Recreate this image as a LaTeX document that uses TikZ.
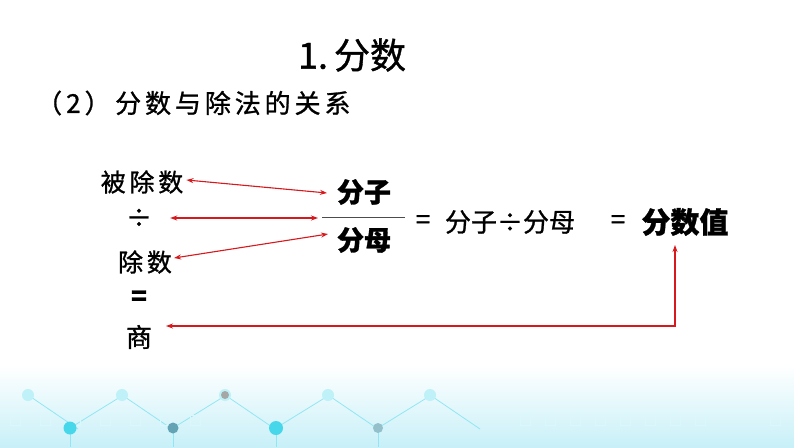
\documentclass[tikz,border=0pt]{standalone}
\usepackage{fontspec}
\usetikzlibrary{arrows.meta}
\newfontfamily\cjk{Noto Sans CJK SC}[FakeBold=1,BoldFeatures={FakeBold=1.1}]
\newfontfamily\cjkwide{Noto Sans CJK SC}[LetterSpace=15,FakeBold=1]
\definecolor{arrred}{RGB}{215,25,30}
\definecolor{bgcyan}{RGB}{200,240,248}
\definecolor{dotcyan}{RGB}{70,215,235}
\definecolor{dotteal}{RGB}{60,140,160}
\tikzset{
  txt/.style={inner sep=0pt, text=black},
  link/.style={draw=arrred, line width=1.1pt, {Stealth[length=7pt,width=5pt]}-{Stealth[length=7pt,width=5pt]}},
  deco/.style={draw=dotcyan!60, line width=0.8pt},
}
\begin{document}
\begin{tikzpicture}[x=1pt,y=-1pt]
\useasboundingbox (0,0) rectangle (794,447);
\fill[white] (0,0) rectangle (794,447);
% background decoration
\shade[top color=white, bottom color=bgcyan] (0,365) rectangle (794,447);
\foreach \x in {28,122,225,328,430} {
  \draw[deco] (\x,395) -- ++(50,34);
}
\foreach \x in {70,173,276,378} {
  \draw[deco] (\x,428) -- ++(55,-34);
  \draw[deco] (\x,428) -- ++(0,19);
}
\foreach \x in {10,40,70,100,130,160,190,520,545,570,595,620,645,670,695,770} {
  \draw[white!80!dotcyan, line width=0.6pt] (\x,415) rectangle ++(10,10);
}
\foreach \x in {28,122,225,328,430} {
  \fill[dotcyan!35] (\x,395) circle (6pt);
}
\fill[dotcyan] (70,428) circle (6.5pt);
\fill[dotteal!80] (173,428) circle (5.5pt);
\fill[dotcyan] (276,428) circle (7pt);
\fill[dotteal!55] (378,428) circle (5pt);
\fill[black!35] (225,395) circle (4pt);

% titles
\node[txt, font=\fontsize{36}{38}\selectfont\cjk] (title) at (352,55) {1.\,分数};
\node[txt, anchor=west, font=\fontsize{26}{28}\selectfont\cjk] (paren) at (36,103) {（\hspace{4pt}2\hspace{4pt}）};
\node[txt, anchor=west, font=\fontsize{26}{28}\selectfont\cjkwide] (sub) at (115,103) {分数与除法的关系};

% left column
\node[txt, font=\fontsize{25}{27}\selectfont\cjkwide] (bcs) at (142,182) {被除数};
\node[txt, font=\fontsize{26}{28}\selectfont\cjk] (div) at (139,218) {÷};
\node[txt, font=\fontsize{25}{27}\selectfont\cjkwide] (cs) at (145,262) {除数};
\node[txt, font=\fontsize{26}{28}\selectfont\bfseries\cjk] (eq) at (139,298) {=};
\node[txt, font=\fontsize{26}{28}\selectfont\cjk] (shang) at (139,337) {商};

% fraction
\node[txt, font=\fontsize{27}{29}\selectfont\bfseries\cjk] (fz) at (364,192) {分子};
\node[txt, font=\fontsize{27}{29}\selectfont\bfseries\cjk] (fm) at (364,240) {分母};
\coordinate (fl) at (322,217);
\coordinate (fr) at (405,217);
\draw[black!70, line width=0.9pt] (fl) -- (fr);

% right expression
\node[txt, font=\fontsize{26}{28}\selectfont\cjk] (eq1) at (423,222) {=};
\node[txt, font=\fontsize{26}{28}\selectfont\cjk] (expr) at (510,222) {分子÷分母};
\node[txt, font=\fontsize{26}{28}\selectfont\cjk] (eq2) at (618,222) {=};
\node[txt, font=\fontsize{29}{31}\selectfont\bfseries\cjk] (val) at (685,222) {分数值};

% arrows
\coordinate (a1) at (327,193);
\coordinate (a2) at (318,218);
\coordinate (a3) at (328,234);
\draw[link] (bcs.east) ++(3,-2) coordinate (b1) -- (a1);
\draw[link] (div.east) ++(18,0) coordinate (b2) -- (a2);
\draw[link] (cs.east) ++(2,-4) coordinate (b3) -- (a3);
\coordinate (corner) at (675,326);
\coordinate (top) at (675,245);
\coordinate (left) at (166,326);
\draw[link] (top) -- (corner) -- (left);
\end{tikzpicture}
\end{document}
